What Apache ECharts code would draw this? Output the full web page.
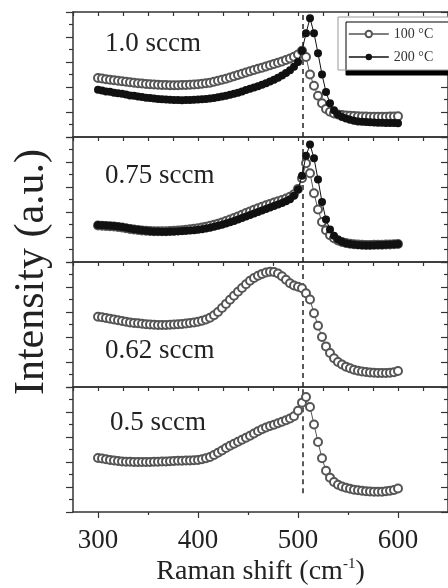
<!DOCTYPE html>
<html>
<head>
<meta charset="utf-8">
<script src="https://cdn.jsdelivr.net/npm/echarts@6/dist/echarts.min.js"></script>
<style>
  html, body { margin: 0; padding: 0; background: #fff; }
  #chart { width: 448px; height: 588px; }
</style>
</head>
<body>
<div id="chart"></div>
<script>
// Raman shift grid (cm^-1) shared by every spectrum
const shift = [
  300, 304, 308, 312, 316, 320, 324, 328, 332, 336,
  340, 344, 348, 352, 356, 360, 364, 368, 372, 376,
  380, 384, 388, 392, 396, 400, 404, 408, 412, 416,
  420, 424, 428, 432, 436, 440, 444, 448, 452, 456,
  460, 464, 468, 472, 476, 480, 484, 488, 492, 496,
  500, 504, 508, 512, 516, 520, 524, 528, 532, 536,
  540, 544, 548, 552, 556, 560, 564, 568, 572, 576,
  580, 584, 588, 592, 596, 600
];

// Panel titles (gas flow)
const flowLabels = ['1.0 sccm', '0.75 sccm', '0.62 sccm', '0.5 sccm'];
const seriesNames = ['100 \u00b0C', '200 \u00b0C'];
const xTickLabels = [300, 400, 500, 600];
const xMinorTicks = [350, 450, 550];
const dashedShift = 505;

// 1.0 sccm
const flow10_100C = [
  4.72, 4.68, 4.62, 4.58, 4.55, 4.50, 4.46, 4.42, 4.38, 4.34,
  4.30, 4.28, 4.25, 4.22, 4.20, 4.18, 4.17, 4.16, 4.15, 4.15,
  4.15, 4.16, 4.17, 4.18, 4.20, 4.22, 4.26, 4.30, 4.35, 4.42,
  4.50, 4.58, 4.66, 4.76, 4.86, 4.96, 5.06, 5.16, 5.26, 5.36,
  5.46, 5.55, 5.65, 5.75, 5.85, 5.95, 6.05, 6.16, 6.28, 6.42,
  6.60, 6.90, 6.40, 5.00, 4.10, 3.30, 2.70, 2.25, 2.02, 1.88,
  1.80, 1.76, 1.72, 1.70, 1.68, 1.66, 1.65, 1.64, 1.63, 1.62,
  1.62, 1.62, 1.63, 1.64, 1.65, 1.66
];
const flow10_200C = [
  3.78, 3.72, 3.65, 3.62, 3.55, 3.50, 3.46, 3.40, 3.33, 3.30,
  3.24, 3.20, 3.15, 3.12, 3.08, 3.05, 3.02, 3.00, 2.98, 2.97,
  2.96, 2.95, 2.97, 2.96, 2.98, 3.00, 3.02, 3.05, 3.08, 3.12,
  3.18, 3.24, 3.30, 3.38, 3.46, 3.55, 3.65, 3.76, 3.86, 3.96,
  4.06, 4.18, 4.30, 4.44, 4.58, 4.74, 4.92, 5.12, 5.35, 5.62,
  6.00, 6.90, 8.30, 9.50, 8.30, 6.70, 5.00, 3.60, 2.70, 2.15,
  1.80, 1.60, 1.48, 1.38, 1.30, 1.25, 1.22, 1.20, 1.18, 1.16,
  1.15, 1.14, 1.13, 1.12, 1.12, 1.10
];

// 0.75 sccm
const flow075_100C = [
  2.92, 2.90, 2.88, 2.86, 2.84, 2.80, 2.76, 2.70, 2.65, 2.60,
  2.56, 2.53, 2.50, 2.48, 2.47, 2.46, 2.46, 2.47, 2.48, 2.50,
  2.52, 2.55, 2.58, 2.62, 2.66, 2.70, 2.76, 2.83, 2.90, 2.98,
  3.07, 3.17, 3.28, 3.40, 3.52, 3.65, 3.78, 3.92, 4.05, 4.18,
  4.30, 4.42, 4.54, 4.65, 4.76, 4.86, 4.96, 5.08, 5.22, 5.42,
  5.85, 6.70, 7.90, 7.10, 5.50, 4.20, 3.20, 2.55, 2.15, 1.90,
  1.72, 1.60, 1.52, 1.46, 1.42, 1.40, 1.38, 1.37, 1.37, 1.38,
  1.38, 1.39, 1.40, 1.41, 1.42, 1.44
];
const flow075_200C = [
  2.96, 2.94, 2.92, 2.90, 2.88, 2.85, 2.80, 2.74, 2.68, 2.63,
  2.58, 2.54, 2.50, 2.47, 2.45, 2.44, 2.43, 2.43, 2.44, 2.45,
  2.46, 2.48, 2.50, 2.52, 2.55, 2.58, 2.62, 2.68, 2.75, 2.82,
  2.90, 2.98, 3.08, 3.18, 3.28, 3.40, 3.52, 3.64, 3.76, 3.88,
  4.00, 4.12, 4.24, 4.36, 4.48, 4.60, 4.72, 4.86, 5.02, 5.30,
  5.80, 6.90, 8.50, 9.40, 8.30, 6.60, 4.80, 3.40, 2.60, 2.10,
  1.80, 1.62, 1.50, 1.44, 1.40, 1.37, 1.35, 1.34, 1.34, 1.35,
  1.36, 1.37, 1.38, 1.40, 1.42, 1.45
];

// 0.62 sccm
const flow062_100C = [
  5.62, 5.58, 5.52, 5.46, 5.40, 5.34, 5.28, 5.22, 5.17, 5.13,
  5.10, 5.06, 5.03, 5.00, 4.98, 4.96, 4.96, 4.97, 4.98, 5.00,
  5.02, 5.05, 5.08, 5.12, 5.16, 5.22, 5.30, 5.40, 5.54, 5.74,
  6.00, 6.32, 6.65, 6.98, 7.30, 7.62, 7.92, 8.22, 8.50, 8.72,
  8.90, 9.05, 9.16, 9.22, 9.20, 9.08, 8.86, 8.58, 8.30, 8.12,
  8.02, 7.90, 7.50, 7.00, 5.90, 4.90, 4.00, 3.25, 2.72, 2.30,
  2.00, 1.80, 1.63, 1.50, 1.38, 1.30, 1.24, 1.20, 1.17, 1.15,
  1.13, 1.12, 1.12, 1.14, 1.18, 1.28
];

// 0.5 sccm
const flow05_100C = [
  4.32, 4.28, 4.22, 4.17, 4.12, 4.08, 4.05, 4.03, 4.02, 4.01,
  4.00, 4.00, 4.00, 4.01, 4.02, 4.03, 4.04, 4.05, 4.06, 4.08,
  4.10, 4.11, 4.12, 4.13, 4.14, 4.16, 4.22, 4.30, 4.40, 4.56,
  4.74, 4.92, 5.12, 5.30, 5.46, 5.62, 5.78, 5.94, 6.10, 6.28,
  6.46, 6.62, 6.76, 6.88, 6.98, 7.10, 7.22, 7.34, 7.48, 7.66,
  8.10, 8.75, 9.20, 8.40, 7.00, 5.60, 4.30, 3.30, 2.75, 2.40,
  2.18, 2.04, 1.94, 1.86, 1.79, 1.74, 1.70, 1.67, 1.65, 1.63,
  1.62, 1.63, 1.66, 1.70, 1.76, 1.88
];

const panels = [
  [[seriesNames[0], flow10_100C, false], [seriesNames[1], flow10_200C, true]],
  [[seriesNames[0], flow075_100C, false], [seriesNames[1], flow075_200C, true]],
  [[seriesNames[0], flow062_100C, false]],
  [[seriesNames[0], flow05_100C, false]]
];

// ---- layout & styling ----
const FONT = '"Liberation Serif", "Times New Roman", serif';
const frameLine = { color: '#333', width: 1.5 };
const tickLine = { color: '#333', width: 1.2 };
const X_MIN = 275, X_MAX = 650;
const PANEL_TOP = 12, PANEL_H = 125;
const labelPos = [[105, 44], [105, 176], [105, 351], [110, 423]];

const grid = [], xAxis = [], yAxis = [], series = [];

panels.forEach((panel, i) => {
  const last = i === panels.length - 1;
  grid.push({ left: 73, top: PANEL_TOP + PANEL_H * i, width: 381, height: PANEL_H });

  const bottomIdx = xAxis.length;
  xAxis.push({
    type: 'value', gridIndex: i, position: 'bottom', min: X_MIN, max: X_MAX,
    axisLine: { show: true, onZero: false, lineStyle: frameLine },
    axisTick: last
      ? { show: true, inside: false, length: 6, customValues: xTickLabels, lineStyle: tickLine }
      : { show: false },
    axisLabel: last
      ? { show: true, customValues: xTickLabels, fontFamily: FONT, fontSize: 27, color: '#222', margin: 15 }
      : { show: false },
    splitLine: { show: false },
    name: last ? '{a|Raman shift (cm}{s|-1}{a|)}' : '',
    nameLocation: 'middle',
    nameGap: 45,
    nameTextStyle: {
      rich: {
        a: { fontFamily: FONT, fontSize: 28, color: '#222', lineHeight: 30 },
        s: { fontFamily: FONT, fontSize: 15, color: '#222', lineHeight: 15, verticalAlign: 'top' }
      }
    }
  });
  xAxis.push({
    type: 'value', gridIndex: i, position: 'top', min: X_MIN, max: X_MAX, interval: 25,
    axisLine: { show: true, onZero: false, lineStyle: frameLine },
    axisTick: { show: true, inside: true, length: 4, lineStyle: tickLine },
    axisLabel: { show: false },
    splitLine: { show: false }
  });
  if (last) {
    xAxis.push({
      type: 'value', gridIndex: i, position: 'bottom', min: X_MIN, max: X_MAX,
      axisLine: { show: false, onZero: false },
      axisTick: { show: true, inside: false, length: 3, customValues: xMinorTicks, lineStyle: tickLine },
      axisLabel: { show: false },
      splitLine: { show: false }
    });
  }

  const leftIdx = yAxis.length;
  ['left', 'right'].forEach(pos => {
    yAxis.push({
      type: 'value', gridIndex: i, position: pos, min: 0, max: 10, interval: 2,
      axisLine: { show: true, onZero: false, lineStyle: frameLine },
      axisTick: { show: true, inside: pos === 'right', length: 7, lineStyle: tickLine },
      minorTick: { show: true, splitNumber: 2, length: 4, lineStyle: tickLine },
      axisLabel: { show: false },
      splitLine: { show: false }
    });
  });

  // reference line at the crystalline-Si position
  series.push({
    type: 'line', name: 'ref' + i,
    xAxisIndex: bottomIdx, yAxisIndex: leftIdx,
    data: [[dashedShift, last ? 1.5 : 0], [dashedShift, 10]],
    symbol: 'none', silent: true, z: 1,
    lineStyle: { type: [5, 4], color: '#222', width: 1.5 }
  });

  panel.forEach(([name, values, filled]) => {
    series.push({
      type: 'line', name,
      xAxisIndex: bottomIdx, yAxisIndex: leftIdx,
      data: shift.map((x, j) => [x, values[j]]),
      symbol: filled ? 'circle' : 'emptyCircle',
      symbolSize: 8,
      showAllSymbol: true,
      itemStyle: filled
        ? { color: '#111', borderWidth: 0 }
        : { color: '#555', borderColor: '#555', borderWidth: 1.3 },
      lineStyle: { color: filled ? '#111' : '#555', width: 1 },
      z: filled ? 3 : 2
    });
  });
});

const graphic = flowLabels.map((t, i) => ({
  type: 'text', x: labelPos[i][0], y: labelPos[i][1],
  style: { text: t, font: '27px ' + FONT, fill: '#222', align: 'left', verticalAlign: 'middle' }
}));
graphic.push({
  type: 'text', x: 32, y: 272, rotation: Math.PI / 2,
  style: { text: 'Intensity (a.u.)', font: '42px ' + FONT, fill: '#222', align: 'center', verticalAlign: 'middle' }
});

const chart = echarts.init(document.getElementById('chart'), null, { renderer: 'canvas' });
chart.setOption({
  animation: false,
  backgroundColor: '#fff',
  grid, xAxis, yAxis, series, graphic,
  legend: {
    data: seriesNames,
    orient: 'vertical',
    left: 338, top: 17,
    itemWidth: 40, itemHeight: 8, itemGap: 9,
    padding: [10, 40, 6, 10],
    backgroundColor: '#fff',
    borderColor: '#999', borderWidth: 1,
    shadowColor: '#000', shadowBlur: 0, shadowOffsetX: 8, shadowOffsetY: 5,
    selectedMode: false,
    lineStyle: { width: 1.6 },
    textStyle: { fontFamily: FONT, fontSize: 14, color: '#333' }
  }
});
</script>
</body>
</html>
